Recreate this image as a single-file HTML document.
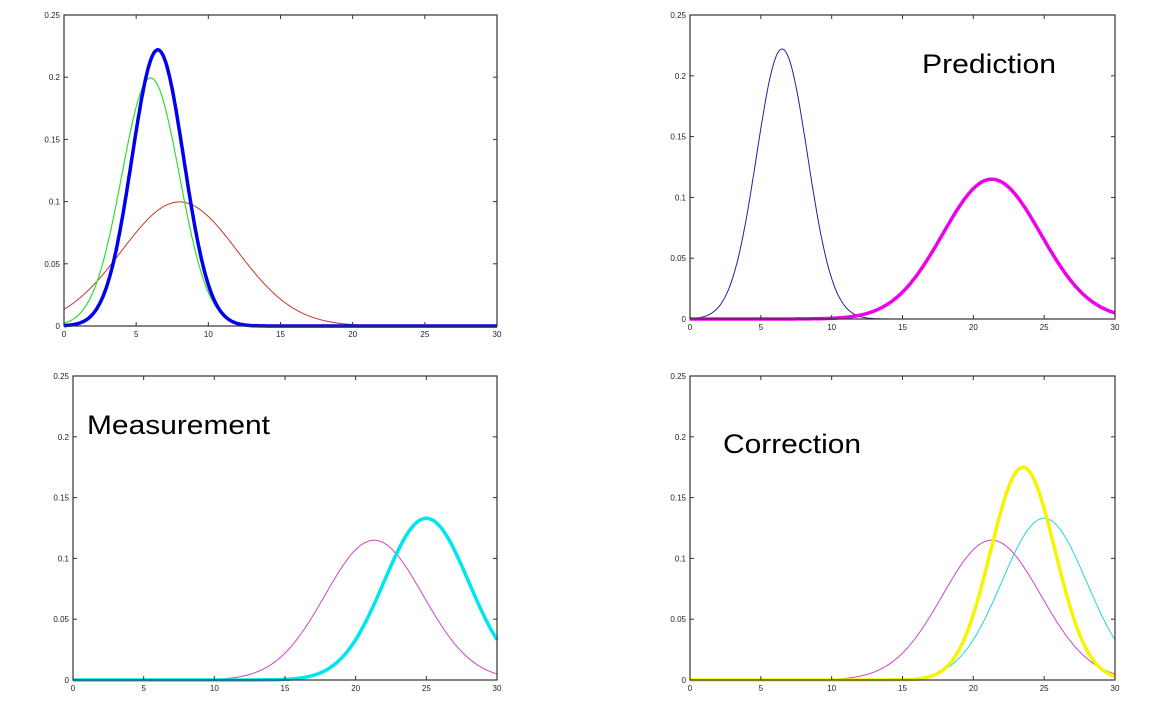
<!DOCTYPE html>
<html><head><meta charset="utf-8"><style>
body{margin:0;background:#fff;width:1157px;height:712px;overflow:hidden}
svg{display:block}
text{font-family:"Liberation Sans",sans-serif}
</style></head><body>
<svg id="c" width="1157" height="712"></svg>
<script>
const xTicks=[0,5,10,15,20,25,30];
const yTicks=[0,0.05,0.1,0.15,0.2,0.25];
const yTickLabels=["0","0.05","0.1","0.15","0.2","0.25"];
// gaussian series parameters per panel: mean, sigma
const tlMeans=[8,6,6.5], tlSigmas=[4,2,1.797];
const trMeans=[6.5,21.3], trSigmas=[1.797,3.47];
const blMeans=[21.3,25], blSigmas=[3.47,3];
const brMeans=[21.3,25,23.5], brSigmas=[3.47,3,2.28];
const panels=[
 {name:'initial',L:64,R:497,T:15,B:326,means:tlMeans,sigmas:tlSigmas,colors:['#c0392b','#33dd33','#0000ee'],widths:[1,1.2,3.5],title:null},
 {name:'prediction',L:690,R:1115,T:15,B:319,means:trMeans,sigmas:trSigmas,colors:['#22229a','#ee00ee'],widths:[1,3.5],title:['Prediction',922,73,134]},
 {name:'measurement',L:73,R:497,T:376,B:680,means:blMeans,sigmas:blSigmas,colors:['#cc44cc','#00e5ee'],widths:[1,3.5],title:['Measurement',87,434,183]},
 {name:'correction',L:690,R:1115,T:376,B:680,means:brMeans,sigmas:brSigmas,colors:['#cc44cc','#22d5dd','#f5f500'],widths:[1,1,3.5],title:['Correction',723,453,138]}
];
const NS='http://www.w3.org/2000/svg';
const svg=document.getElementById('c');
function mk(t,a,p){const e=document.createElementNS(NS,t);for(const k in a)e.setAttribute(k,a[k]);(p||svg).appendChild(e);return e;}
panels.forEach(p=>{
 const g=mk('g',{});
 
 
 const xs=v=>p.L+(v/30)*(p.R-p.L);
 const ys=v=>p.B-(v/0.25)*(p.B-p.T);
 p.means.forEach((m,i)=>{
  const s=p.sigmas[i];let d='';
  for(let k=0;k<=600;k++){const x=30*k/600;const y=Math.exp(-0.5*((x-m)/s)**2)/(s*Math.sqrt(2*Math.PI));d+=(k?'L':'M')+xs(x).toFixed(1)+','+ys(y).toFixed(1);}
  const path=mk('path',{d:d,fill:'none',stroke:p.colors[i],'stroke-width':p.widths[i]},g);
  
  
 });
 const box=mk('rect',{x:p.L,y:p.T,width:p.R-p.L,height:p.B-p.T,fill:'none',stroke:'#333','stroke-width':1.2},g);
 
 
 xTicks.forEach(v=>{
  const x=xs(v);
  mk('line',{x1:x,x2:x,y1:p.B,y2:p.B-4,stroke:'#333'},g);
  mk('line',{x1:x,x2:x,y1:p.T,y2:p.T+4,stroke:'#333'},g);
  const t=mk('text',{x:x,y:p.B+11,'font-size':8,'text-anchor':'middle',fill:'#222'},g);t.textContent=v;
  
  
 });
 yTicks.forEach((v,i)=>{
  const y=ys(v);
  mk('line',{x1:p.L,x2:p.L+4,y1:y,y2:y,stroke:'#333'},g);
  mk('line',{x1:p.R,x2:p.R-4,y1:y,y2:y,stroke:'#333'},g);
  const t=mk('text',{x:p.L-4,y:y+3,'font-size':8,'text-anchor':'end',fill:'#222'},g);t.textContent=yTickLabels[i];
  
  
 });
 if(p.title){const t=mk('text',{x:p.title[1],y:p.title[2],'font-size':27,fill:'#000',textLength:p.title[3],lengthAdjust:'spacingAndGlyphs'},g);t.textContent=p.title[0];
  
  }
});
</script>
</body></html>
